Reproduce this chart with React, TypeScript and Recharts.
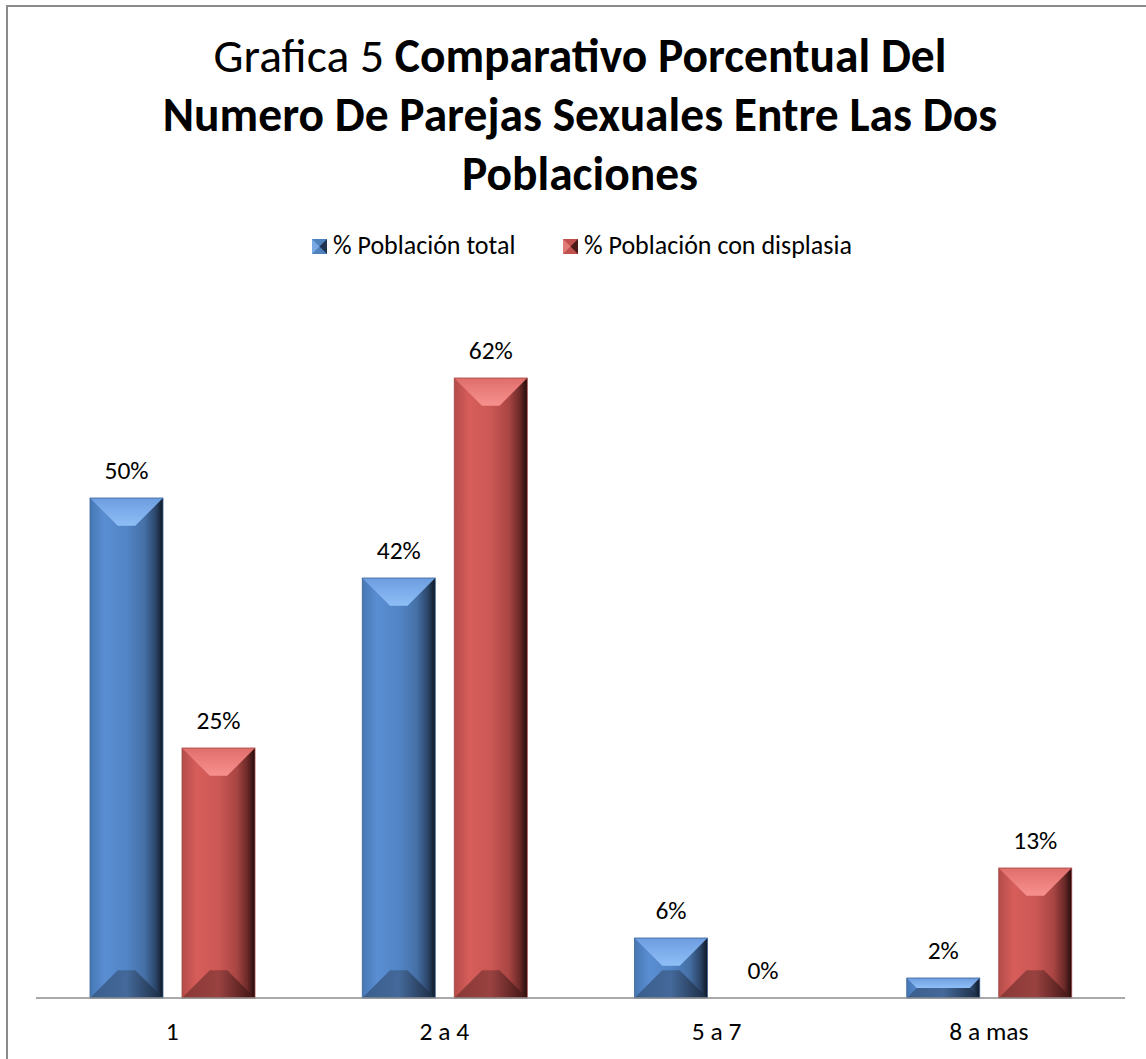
import { BarChart, Bar, XAxis, YAxis, LabelList } from 'recharts'

const categories = ['1', '2 a 4', '5 a 7', '8 a mas']
const totalPct = [50, 42, 6, 2]
const displasiaPct = [25, 62, 0, 13]
const seriesNames = ['% Población total', '% Población con displasia']

const rows = categories.map((c, i) => ({ cat: c, total: totalPct[i], displasia: displasiaPct[i] }))

const FONT = "Carlito, Calibri, Lato, 'Noto Sans', sans-serif"

// palette for the bevelled bars: body gradient, top and bottom facets
const tones = {
  blue: { body: 'gradBlueBody', top: 'gradBlueTop', bottom: 'gradBlueBottom', edge: '#3c6496' },
  red: { body: 'gradRedBody', top: 'gradRedTop', bottom: 'gradRedBottom', edge: '#a34542' },
}

function BevelBar(props: any) {
  const { x, y, width, height, tone } = props
  if (!height || height <= 0) return null
  const t = tones[tone as 'blue' | 'red']
  const d = Math.min(28, width * 0.38, height / 2)
  const r = x + width
  const b = y + height
  return (
    <g>
      <rect x={x} y={y} width={width} height={height} fill={`url(#${t.body})`} />
      <polygon points={`${x},${y} ${r},${y} ${r - d},${y + d} ${x + d},${y + d}`} fill={`url(#${t.top})`} />
      <polygon points={`${x},${b} ${r},${b} ${r - d},${b - d} ${x + d},${b - d}`} fill={`url(#${t.bottom})`} />
      <rect x={x} y={y} width={width} height={height} fill="none" stroke={t.edge} strokeWidth={0.8} />
    </g>
  )
}

function LegendMark({ x, y, tone }: { x: number; y: number; tone: 'blue' | 'red' }) {
  const s = 15
  const light = tone === 'blue' ? '#7aa8e2' : '#e07b78'
  const mid = tone === 'blue' ? '#4f81bd' : '#c0504d'
  const dark = tone === 'blue' ? '#1d3350' : '#4a1918'
  return (
    <g>
      <rect x={x} y={y} width={s} height={s} fill={mid} />
      <polygon points={`${x},${y} ${x + s / 2},${y + s / 2} ${x},${y + s}`} fill={light} />
      <polygon points={`${x + s},${y} ${x + s / 2},${y + s / 2} ${x + s},${y + s}`} fill={dark} />
    </g>
  )
}

export default function App() {
  return (
    <div style={{ position: 'absolute', left: 0, top: 0, width: 1146, height: 1059, overflow: 'hidden', background: '#fff', fontFamily: FONT }}>
      <div style={{ position: 'absolute', left: 6, top: 5, width: 1300, height: 1200, borderLeft: '2px solid #8a8a8a', borderTop: '2px solid #8a8a8a' }} />
      <svg width={1146} height={300} style={{ position: 'absolute', left: 0, top: 0 }}>
        <g fontFamily={FONT} fill="#000" textAnchor="middle">
          <text x={580} y={72} fontSize={47.5}>
            <tspan>Grafica 5 </tspan>
            <tspan fontWeight="bold">Comparativo Porcentual Del</tspan>
          </text>
          <text x={580} y={131} fontSize={47.5} fontWeight="bold">Numero De Parejas Sexuales Entre Las Dos</text>
          <text x={580} y={190} fontSize={47.5} fontWeight="bold">Poblaciones</text>
        </g>
        <LegendMark x={312} y={239} tone="blue" />
        <text x={333} y={254} fontFamily={FONT} fontSize={26} fill="#000">{seriesNames[0]}</text>
        <LegendMark x={563} y={239} tone="red" />
        <text x={584} y={254} fontFamily={FONT} fontSize={26} fill="#000">{seriesNames[1]}</text>
      </svg>
      <BarChart
        width={1146}
        height={1059}
        data={rows}
        margin={{ top: 298, right: 21, bottom: 31, left: 36 }}
        barCategoryGap={54}
        barGap={19}
        style={{ position: 'absolute', left: 0, top: 0 }}
      >
        <defs>
          <linearGradient id="gradBlueBody" x1="0" y1="0" x2="1" y2="0">
            <stop offset="0" stopColor="#4677b4" />
            <stop offset="0.2" stopColor="#5a8ed2" />
            <stop offset="0.5" stopColor="#5285c7" />
            <stop offset="0.75" stopColor="#4570a6" />
            <stop offset="0.9" stopColor="#2b4568" />
            <stop offset="1" stopColor="#0f1724" />
          </linearGradient>
          <linearGradient id="gradBlueTop" x1="0" y1="0" x2="0" y2="1">
            <stop offset="0" stopColor="#6d9de0" />
            <stop offset="1" stopColor="#8fbff6" />
          </linearGradient>
          <linearGradient id="gradBlueBottom" x1="0" y1="0" x2="1" y2="0">
            <stop offset="0" stopColor="#3a5e8c" />
            <stop offset="0.5" stopColor="#44699a" />
            <stop offset="1" stopColor="#1a2a40" />
          </linearGradient>
          <linearGradient id="gradRedBody" x1="0" y1="0" x2="1" y2="0">
            <stop offset="0" stopColor="#b44c49" />
            <stop offset="0.2" stopColor="#d65d5a" />
            <stop offset="0.5" stopColor="#cc5855" />
            <stop offset="0.75" stopColor="#a84543" />
            <stop offset="0.9" stopColor="#6a2928" />
            <stop offset="1" stopColor="#220b0b" />
          </linearGradient>
          <linearGradient id="gradRedTop" x1="0" y1="0" x2="0" y2="1">
            <stop offset="0" stopColor="#e06e6b" />
            <stop offset="1" stopColor="#f7918e" />
          </linearGradient>
          <linearGradient id="gradRedBottom" x1="0" y1="0" x2="1" y2="0">
            <stop offset="0" stopColor="#8a3836" />
            <stop offset="0.5" stopColor="#994240" />
            <stop offset="1" stopColor="#3d1413" />
          </linearGradient>
        </defs>
        <XAxis
          dataKey="cat"
          axisLine={{ stroke: '#8c8c8c', strokeWidth: 1.5 }}
          tickLine={false}
          tickMargin={18}
          tick={{ fill: '#000', fontSize: 25.5, fontFamily: FONT }}
        />
        <YAxis hide domain={[0, 70]} />
        <Bar dataKey="total" name={seriesNames[0]} isAnimationActive={false} shape={(p: any) => <BevelBar {...p} tone="blue" />}>
          <LabelList dataKey="total" position="top" offset={19} formatter={(v: any) => `${v}%`} style={{ fill: '#000', fontSize: 25.5, fontFamily: FONT }} />
        </Bar>
        <Bar dataKey="displasia" name={seriesNames[1]} isAnimationActive={false} shape={(p: any) => <BevelBar {...p} tone="red" />}>
          <LabelList dataKey="displasia" position="top" offset={19} formatter={(v: any) => `${v}%`} style={{ fill: '#000', fontSize: 25.5, fontFamily: FONT }} />
        </Bar>
      </BarChart>
    </div>
  )
}
